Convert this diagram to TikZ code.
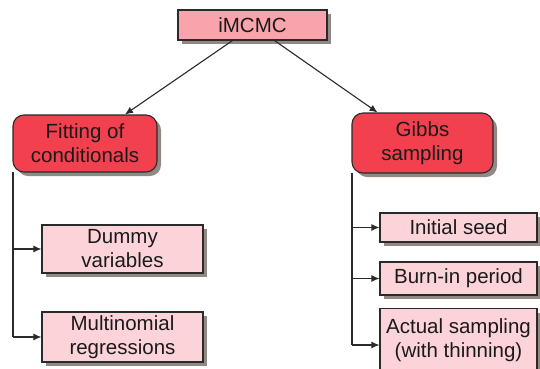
\documentclass[tikz,border=0pt]{standalone}
\usepackage{fontspec}
\setmainfont{Liberation Sans}
\usetikzlibrary{shadows,arrows.meta}
\definecolor{topfill}{HTML}{F9A3AC}
\definecolor{midfill}{HTML}{F2404F}
\definecolor{leaffill}{HTML}{FCD3D9}
\definecolor{edge}{HTML}{2A2A2A}
\definecolor{txt}{HTML}{1A1A1A}
\definecolor{shad}{HTML}{857C76}
\tikzset{
  box/.style={draw=edge, line width=1.1pt, text=txt, align=center, inner sep=0pt,
    font=\fontsize{20.5}{24}\selectfont,
    drop shadow={shadow xshift=4pt, shadow yshift=-4pt, fill=shad, opacity=0.9}},
  topbox/.style={box, fill=topfill},
  midbox/.style={box, fill=midfill, rounded corners=11pt},
  leafbox/.style={box, fill=leaffill},
  arr/.style={draw=edge, line width=1.1pt, -{Latex[length=8pt,width=7pt]}},
  link/.style={draw=edge, line width=1.1pt}
}
\begin{document}
\begin{tikzpicture}[x=1pt,y=-1pt]
\useasboundingbox (0,0) rectangle (540,368);
\node[topbox, minimum width=149pt, minimum height=30pt] (imcmc) at (252.5,25) {iMCMC};
\node[midbox, minimum width=144pt, minimum height=57pt] (fit) at (85,143.5) {Fitting of\\conditionals};
\node[midbox, minimum width=141pt, minimum height=60pt] (gibbs) at (422.5,143) {Gibbs\\sampling};
\node[leafbox, minimum width=161pt, minimum height=48pt] (dummy) at (122.5,249) {Dummy\\variables};
\node[leafbox, minimum width=161pt, minimum height=50pt] (multi) at (122.5,337) {Multinomial\\regressions};
\node[leafbox, minimum width=157pt, minimum height=29pt] (seed) at (458.5,227.5) {Initial seed};
\node[leafbox, minimum width=157pt, minimum height=33pt] (burn) at (458.5,278.5) {Burn-in period};
\node[leafbox, minimum width=157pt, minimum height=64pt, anchor=north] (actual) at (458.5,308) {Actual sampling\\(with thinning)};
\coordinate (ltop) at (13,172);
\coordinate (rtop) at (352,173);
\coordinate (rbot) at (352,345);
\draw[arr] ([xshift=-20pt]imcmc.south) -- ([xshift=40pt]fit.north);
\draw[arr] ([xshift=22pt]imcmc.south) -- ([xshift=-45pt]gibbs.north);
\draw[link] (ltop) -- (ltop |- multi.west);
\draw[arr] (ltop |- dummy.west) -- (dummy.west);
\draw[arr] (ltop |- multi.west) -- (multi.west);
\draw[link] (rtop) -- (rbot);
\draw[arr] (rtop |- seed.west) -- (seed.west);
\draw[arr] (rtop |- burn.west) -- (burn.west);
\draw[arr] (rbot) -- (actual.west |- rbot);
\end{tikzpicture}
\end{document}
